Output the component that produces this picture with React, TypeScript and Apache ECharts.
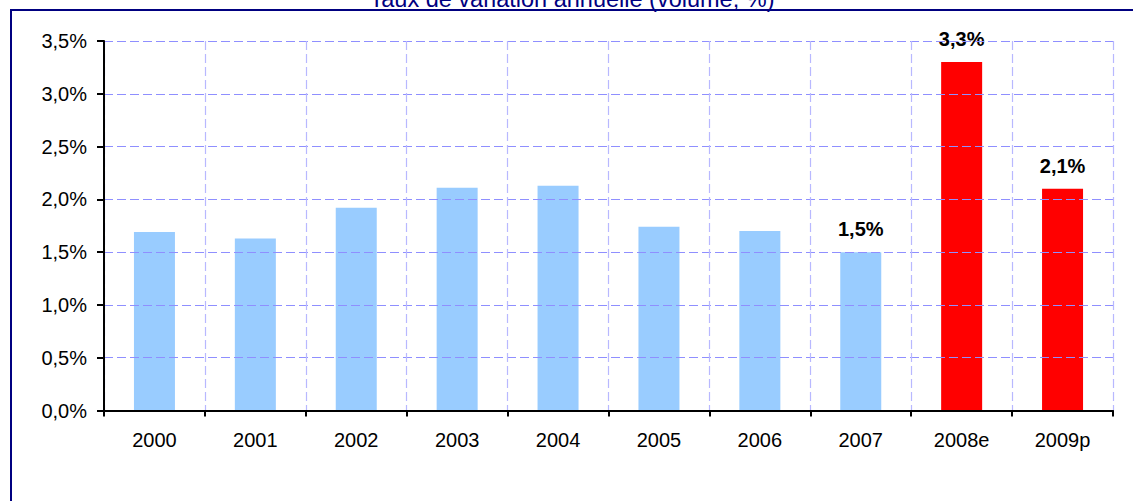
import React, { useEffect, useRef } from "react";
import * as echarts from "echarts";

const categories = ["2000", "2001", "2002", "2003", "2004", "2005", "2006", "2007", "2008e", "2009p"];
const values = [1.69, 1.63, 1.92, 2.11, 2.13, 1.74, 1.70, 1.5, 3.3, 2.1];
const forecastCategories = ["2008e", "2009p"];
const labelledCategories = ["2007", "2008e", "2009p"];
const yTicks = [0, 0.5, 1, 1.5, 2, 2.5, 3, 3.5];
const titleText = "Taux de variation annuelle (volume, %)";

const FONT = "Arial, 'Liberation Sans', sans-serif";
const fmt = (v: number) => v.toFixed(1).replace(".", ",") + "%";

export default function App() {
  const ref = useRef<HTMLDivElement>(null);
  useEffect(() => {
    if (!ref.current) return;
    const chart = echarts.init(ref.current, undefined, { renderer: "svg" });
    const data = categories.map((c, i) => ({
      value: values[i],
      itemStyle: { color: forecastCategories.includes(c) ? "#ff0000" : "#99ccff" },
      label: { show: labelledCategories.includes(c) },
    }));
    chart.setOption({
      animation: false,
      backgroundColor: "#ffffff",
      textStyle: { fontFamily: FONT },
      grid: { left: 104, right: 20, top: 41, bottom: 90.5, containLabel: false },
      xAxis: {
        type: "category",
        data: categories,
        boundaryGap: true,
        axisLine: { show: true, lineStyle: { color: "#000000", width: 2 } },
        axisTick: { show: true, length: 6, lineStyle: { color: "#000000", width: 2 } },
        axisLabel: { color: "#000000", fontSize: 20, fontFamily: FONT, margin: 19 },
        splitLine: { show: true, lineStyle: { color: "#b8b8ff", type: [9, 4], width: 1.2 } },
        z: 5,
      },
      yAxis: {
        type: "value",
        min: yTicks[0],
        max: yTicks[yTicks.length - 1],
        interval: 0.5,
        axisLine: { show: true, lineStyle: { color: "#000000", width: 2 } },
        axisTick: { show: true, length: 7, lineStyle: { color: "#000000", width: 2 } },
        axisLabel: { color: "#000000", fontSize: 20, fontFamily: FONT, margin: 17, formatter: (v: number) => fmt(v) },
        splitLine: { show: true, lineStyle: { color: "#8f8fff", type: [9, 4], width: 1.2 } },
        z: 5,
      },
      graphic: [
        {
          type: "rect",
          shape: { x: 11, y: 10, width: 1300, height: 700 },
          style: { fill: "none", stroke: "#000080", lineWidth: 2 },
          silent: true,
          z: 10,
        },
        {
          type: "text",
          x: 572,
          y: -1,
          style: {
            text: titleText,
            fill: "#000080",
            font: `23.5px ${FONT}`,
            textAlign: "center",
            textVerticalAlign: "middle",
          },
          z: 10,
        },
      ],
      series: [
        {
          type: "bar",
          data,
          barWidth: 41,
          label: {
            show: false,
            position: "top",
            distance: 13,
            color: "#000000",
            fontWeight: "bold",
            fontSize: 20,
            fontFamily: FONT,
            formatter: (p: any) => fmt(p.value),
          },
        },
      ],
    });
    return () => chart.dispose();
  }, []);
  return <div ref={ref} style={{ position: "absolute", left: 0, top: 0, width: 1133, height: 501 }} />;
}
